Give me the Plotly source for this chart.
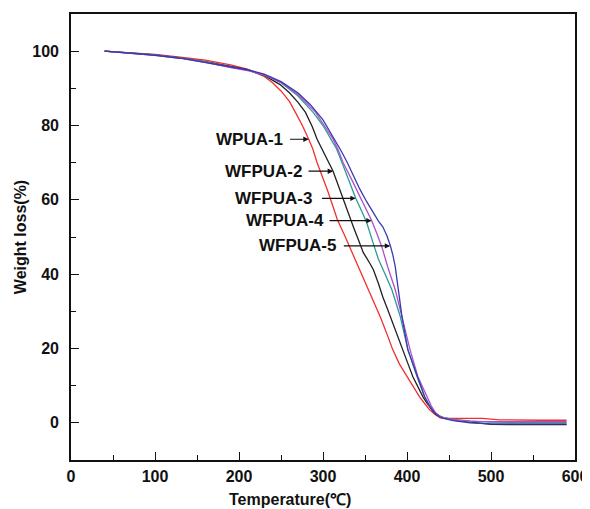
import plotly.graph_objects as go

# ---- data (Temperature in °C, weight in %) ----
t_wpua1 = [40, 70, 100, 130, 160, 190, 210, 230, 240, 250, 260, 267, 275, 283, 288, 293, 299, 305, 311, 317, 325,
           332, 338, 344, 350, 356, 362, 368, 375, 383, 391, 400, 408, 415, 421, 427, 433, 439, 450, 470, 490,
           510, 530, 560, 590]
w_wpua1 = [100, 99.6, 99.1, 98.4, 97.6, 96.3, 95.2, 93.2, 91.5, 89.3, 86.5, 83.6, 80.2, 76.3, 73.6, 70, 66.5, 62.8, 58.8, 54.7, 50.8,
           47.2, 44.2, 41.2, 38.2, 35.0, 31.8, 28.6, 24.6, 19.7, 15.8, 12.4, 9.4, 7.0, 5.2, 3.5, 2.3, 1.4, 1.2, 1.2, 1.2,
           0.8, 0.7, 0.7, 0.7]

t_wfpua2 = [40, 70, 100, 130, 160, 190, 210, 230, 249, 260, 270, 279, 287, 293, 299, 305, 312, 318, 324, 330,
            336, 342, 348, 354, 360, 366, 371, 377, 383, 389, 395, 401, 407, 413, 419, 423, 427, 431, 435, 445,
            460, 480, 500, 520, 545, 590]
w_wfpua2 = [100, 99.6, 99.0, 98.2, 97.2, 95.9, 95.0, 93.5, 91.0, 88.8, 86.3, 83.6, 79.8, 76.3, 73.6, 70.8, 67.7, 64.0, 60.1, 56.5,
            52.8, 49.3, 45.8, 43.6, 41.2, 37.5, 34.0, 30.5, 27.0, 23.3, 19.7, 16.0, 12.4, 9.6, 7.0, 5.6, 4.3, 3.1, 2.2, 1.2,
            0.6, 0.2, -0.4, -0.5, -0.5, -0.5]

t_wfpua3 = [40, 70, 100, 130, 160, 190, 210, 230, 250, 270, 288, 300, 309.5, 315.5, 320, 330, 339, 346, 352,
            359.5, 366, 374, 382, 392, 401, 412, 421, 427, 433, 440, 455, 475, 500, 530, 560, 590]
w_wfpua3 = [100, 99.6, 99.0, 98.2, 97.1, 95.7, 94.9, 93.6, 91.5, 88.0, 83.6, 80.0, 76.3, 74.0, 71.5, 65.5, 60.4, 57, 53.9,
            48.5, 44.0, 40.0, 35.8, 28.6, 19.7, 12.4, 7.0, 4.6, 2.8, 1.6, 0.9, 0.5, 0.2, 0.1, 0.1, 0.1]

t_wfpua4 = [40, 70, 100, 130, 160, 190, 210, 230, 250, 270, 291, 302, 312, 318, 324, 334, 344, 351, 358,
            364, 370, 377, 386, 394, 403.6, 413, 424, 429, 434, 440, 455, 475, 500, 530, 560, 590]
w_wfpua4 = [100, 99.5, 98.9, 98.1, 97.0, 95.6, 94.8, 93.6, 91.6, 88.4, 83.6, 79.8, 76.3, 73.5, 70, 65.5, 61, 57.7, 54.4,
            51, 47.4, 42, 35.8, 28.6, 19.7, 12.4, 7.0, 4.5, 2.7, 1.5, 0.8, 0.4, 0.3, 0.3, 0.3, 0.3]

t_wfpua5 = [40, 70, 100, 130, 160, 190, 210, 230, 250, 270, 285, 300, 314, 322, 329, 336, 344, 352, 359.5,
            366, 371, 376, 380, 383, 386, 389, 394, 401, 412, 421, 427, 433, 440, 455, 475, 500, 530, 560, 590]
w_wfpua5 = [100, 99.5, 98.9, 98.1, 97.0, 95.8, 95.0, 93.8, 91.8, 88.8, 85.6, 81.5, 76.3, 73, 70, 66.5, 62.8, 59.5, 56.6,
            54.3, 52.8, 50.4, 47.8, 45.3, 42, 36.8, 28.6, 19.7, 12.4, 7.0, 4.4, 2.7, 1.4, 0.6, 0, -0.3, -0.3, -0.3, -0.3]

names = ["WPUA-1", "WFPUA-2", "WFPUA-3", "WFPUA-4", "WFPUA-5"]
temps = [t_wpua1, t_wfpua2, t_wfpua3, t_wfpua4, t_wfpua5]
weights = [w_wpua1, w_wfpua2, w_wfpua3, w_wfpua4, w_wfpua5]
colors = ["#f03030", "#202020", "#2a9c94", "#b050c8", "#3a3ab0"]

# label placement: (text right edge T, arrow tail T, arrow head T, level W)
label_pos = [
    (255, 259, 283, 76.3),
    (277, 281, 312, 67.7),
    (289, 297, 339, 60.4),
    (303.5, 306, 358, 54.4),
    (318, 323, 380, 47.6),
]

FONT = "'Liberation Sans', Arial, sans-serif"

fig = go.Figure()
for n, t, w, c in zip(names, temps, weights, colors):
    fig.add_trace(go.Scatter(x=t, y=w, mode="lines", name=n,
                             line=dict(color=c, width=1.3), showlegend=False))

annotations = []
for n, (tx, tail, head, lvl) in zip(names, label_pos):
    annotations.append(dict(x=tx, y=lvl, xref="x", yref="y", text=n, showarrow=False,
                            xanchor="right", yanchor="middle",
                            font=dict(family=FONT, size=17, color="#111111", weight="bold")))
    annotations.append(dict(x=head, y=lvl, xref="x", yref="y", ax=tail, ay=lvl,
                            axref="x", ayref="y", text="", showarrow=True,
                            arrowhead=2, arrowsize=0.9, arrowwidth=1.2, arrowcolor="#111111",
                            standoff=0, startstandoff=0))
annotations.append(dict(x=0.435, y=-0.064, xref="paper", yref="paper", text="Temperature(℃)",
                        showarrow=False, xanchor="center", yanchor="top",
                        font=dict(family=FONT, size=16, color="#111111", weight="bold")))

axis_common = dict(showgrid=False, zeroline=False, showline=True, linecolor="#111111", linewidth=1.6,
                   mirror=True, ticks="inside", tickcolor="#111111", tickwidth=1.3, ticklen=8,
                   automargin=False,
                   tickfont=dict(family=FONT, size=16, color="#111111", weight="bold"))

# the page body adds an 8px offset, so the figure is 8px smaller than the window
fig.update_layout(
    width=582, height=501,
    margin=dict(l=63, r=15, t=6, b=49, autoexpand=False),
    paper_bgcolor="white", plot_bgcolor="white",
    xaxis=dict(range=[0, 600], tickmode="linear", tick0=0, dtick=100,
               minor=dict(ticks="inside", dtick=50, ticklen=5, tickcolor="#111111", tickwidth=1.2),
               ticklabelstandoff=1, **axis_common),
    yaxis=dict(range=[-10, 110], tickmode="array", tickvals=[0, 20, 40, 60, 80, 100],
               minor=dict(ticks="inside", tickvals=[-10, 10, 30, 50, 70, 90, 110], ticklen=5,
                          tickcolor="#111111", tickwidth=1.2),
               ticklabelstandoff=7,
               title=dict(text="Weight loss(%)", standoff=2,
                          font=dict(family=FONT, size=16, color="#111111", weight="bold")),
               **axis_common),
    annotations=annotations,
)

fig.write_html("out.html")
